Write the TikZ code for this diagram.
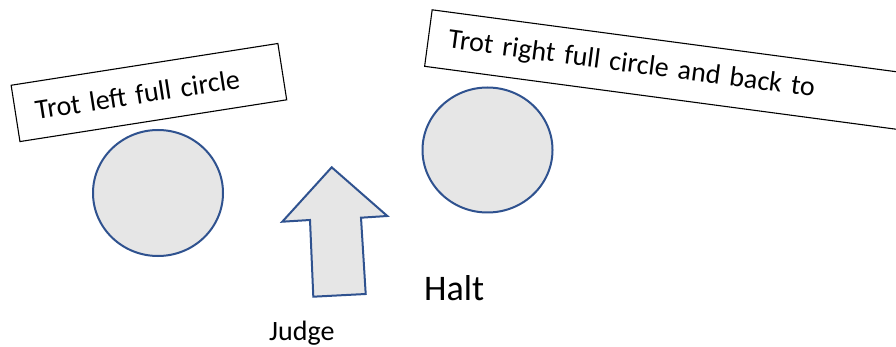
\documentclass[tikz,border=0pt]{standalone}
\usepackage{fontspec}
\setmainfont{Carlito}
\definecolor{shapeblue}{HTML}{2F528F}
\definecolor{shapefill}{HTML}{E6E6E6}
\begin{document}
\begin{tikzpicture}[x=1pt,y=-1pt,
  labelbox/.style={draw=black, line width=1.1pt, fill=white, anchor=west,
    minimum height=57pt, inner xsep=20pt, inner ysep=0pt, align=left,
    font=\fontsize{28}{32}\selectfont},
  ring/.style={draw=shapeblue, line width=2pt, fill=shapefill},
  plain/.style={inner sep=0pt, anchor=base west}]
\useasboundingbox (0,0) rectangle (896,347);
\clip (0,0) rectangle (896,347);
\fill[white] (0,0) rectangle (896,347);
% boxes
\node[labelbox, rotate=8.9, minimum width=270pt, text width=230pt] (lbox) at (15,113.5) {Trot left full circle};
\node[labelbox, rotate=-7.6, minimum width=620pt, text width=580pt] (rbox) at (427.85,38) {Trot right full circle and back to};
% circles
\draw[ring] (158,193) ellipse [x radius=65, y radius=63];
\node[inner sep=0pt, minimum size=0pt] (lcirc) at (158,193) {};
\draw[ring] (487.5,150) ellipse [x radius=65, y radius=62.5];
\node[inner sep=0pt, minimum size=0pt] (rcirc) at (487.5,150) {};
% arrow
\draw[ring, line join=miter] (331.7,167.3) -- (387.3,216) -- (361,217.7) -- (365.7,294) -- (313.3,296.7) -- (310,220) -- (282.3,221.7) -- cycle;
% labels
\node[plain, font=\fontsize{36}{40}\selectfont] (halt) at (424,300) {Halt};
\node[plain, font=\fontsize{28}{32}\selectfont] (judge) at (269,340) {Judge};
\end{tikzpicture}
\end{document}
